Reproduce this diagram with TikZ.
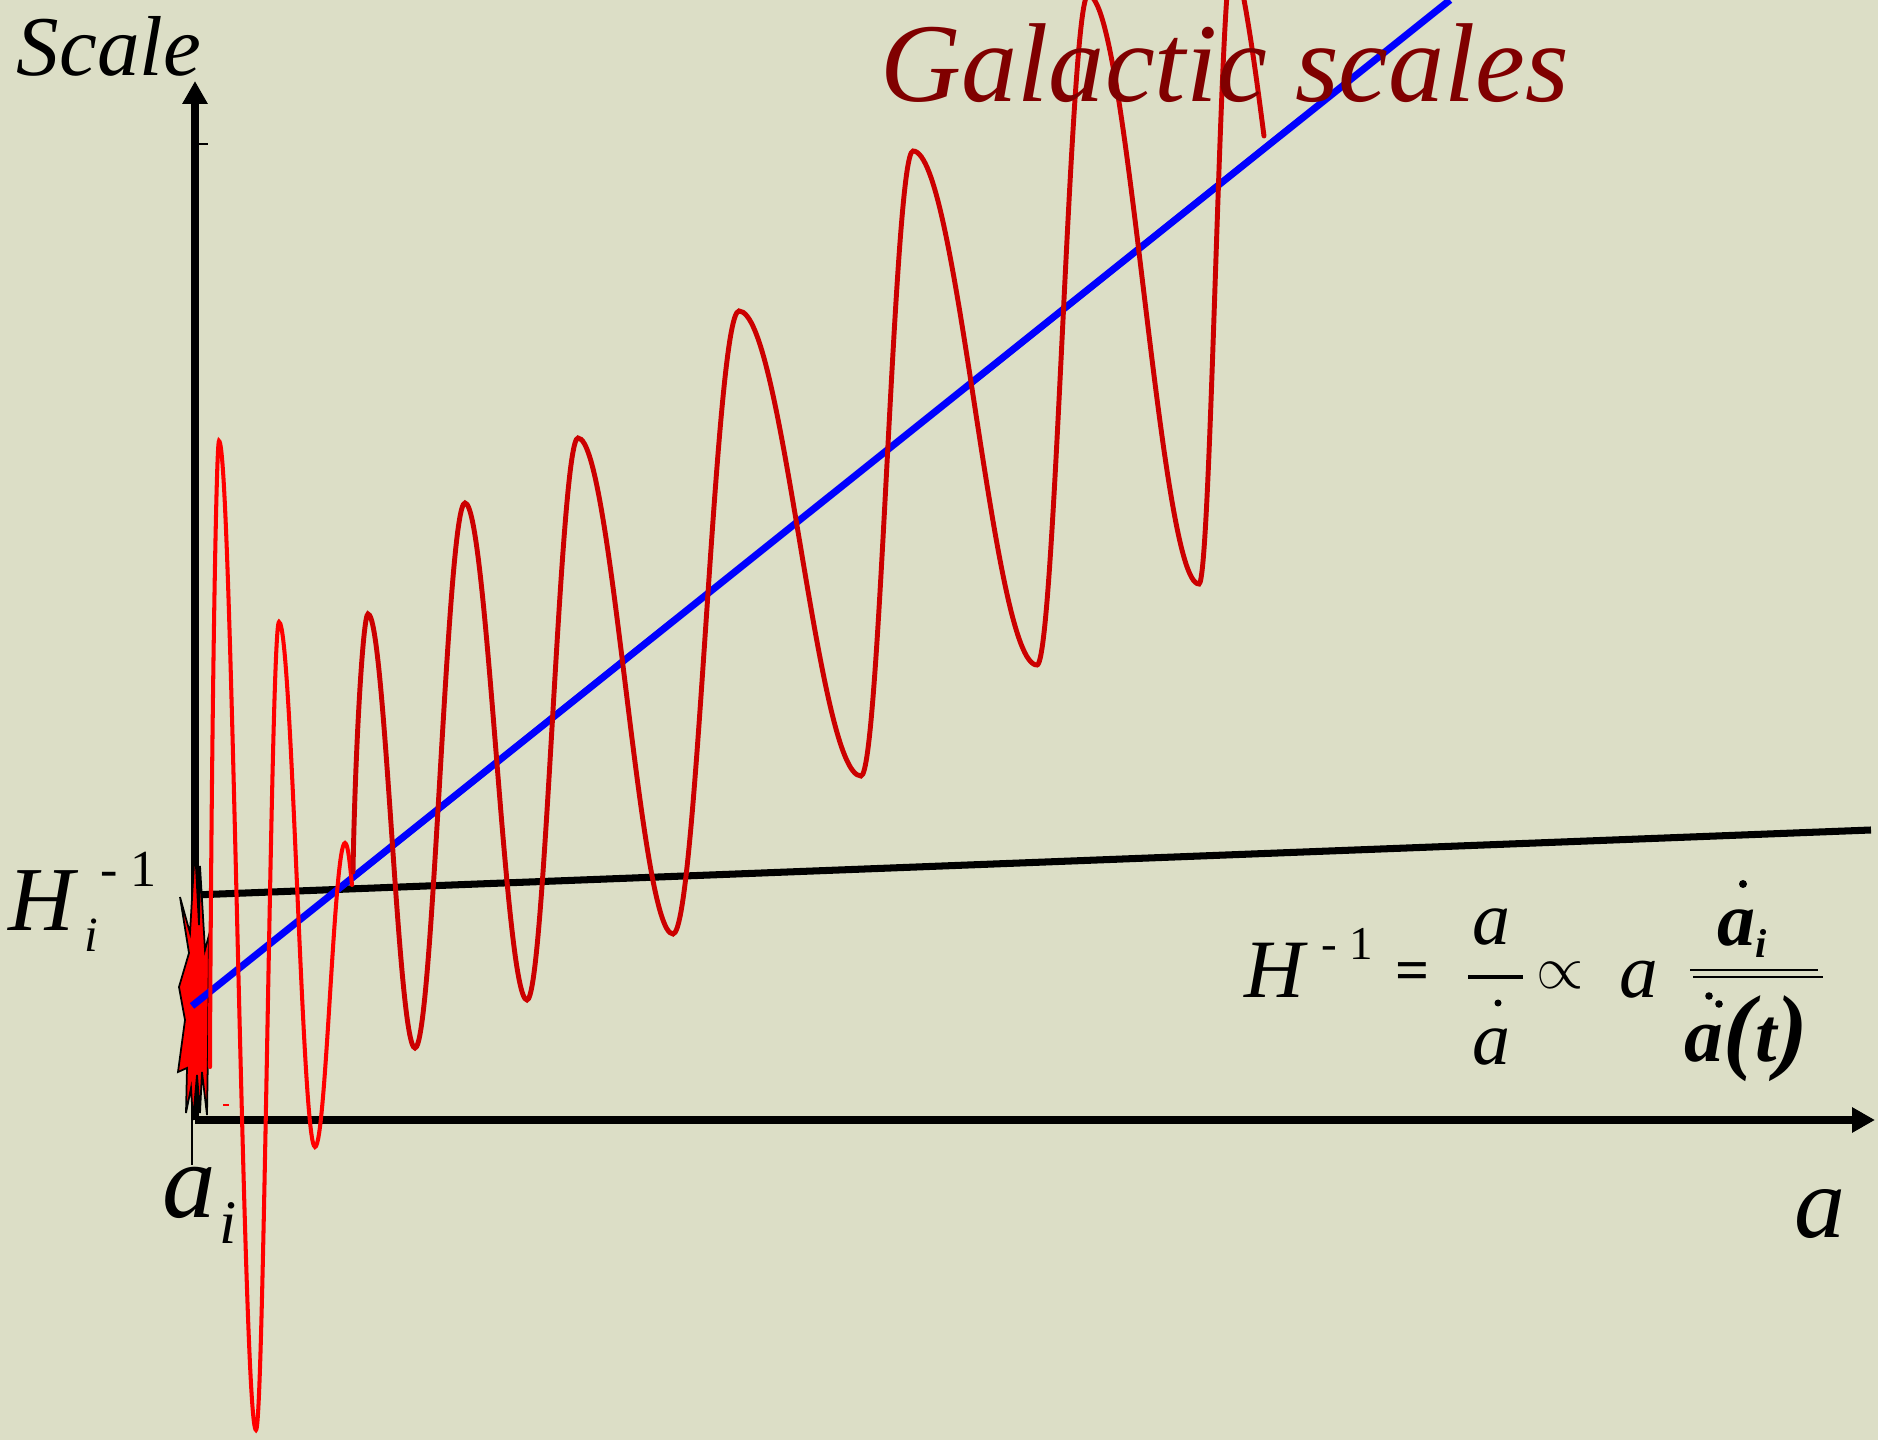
\documentclass[tikz,border=0pt]{standalone}
\usepackage{fontspec}
\setmainfont{Liberation Serif}
\usetikzlibrary{arrows.meta}
\definecolor{PaperGreen}{RGB}{220,222,198}
\definecolor{WaveRed}{RGB}{204,0,0}
\definecolor{TitleRed}{RGB}{128,0,0}

\begin{document}
\begin{tikzpicture}[
  x=0.01cm, y=-0.01cm,
  lbl/.style={inner sep=0pt, anchor=base west},
  fs/.style={font=\fontsize{#1}{#1}\selectfont\itshape},
  fb/.style={font=\fontsize{#1}{#1}\selectfont\bfseries\itshape},
  fu/.style={font=\fontsize{#1}{#1}\selectfont},
  axis/.style={line width=2.1pt, -{Triangle[length=6.5pt,width=6.8pt]}},
  hline/.style={line width=2pt},
  blueline/.style={line width=2pt, blue},
  brightwave/.style={line width=1.15pt, red, line cap=round},
  darkwave/.style={line width=1.4pt, WaveRed, line cap=round},
  bar/.style={line width=0.9pt}
]
  \useasboundingbox (0,0) rectangle (1878,1440);
  \clip (0,0) rectangle (1878,1440);
  \fill[PaperGreen] (0,0) rectangle (1878,1440);

  % axes
  \coordinate (O) at (195,1120);
  \coordinate (ytip) at (195,81);
  \coordinate (xtip) at (1875,1120);
  \draw[axis] (O) -- (ytip);
  \draw[axis] (O) -- (xtip);
  \draw[line width=0.6pt] (197,144) -- (208,144);

  % horizon line
  \coordinate (hs) at (194,895);
  \coordinate (he) at (1871,830);
  \draw[hline] (hs) -- (he);

  % big bang burst
  \filldraw[fill=red, draw=black, line width=0.5pt, line join=miter]
    (195,847) -- (199,925) -- (200,866) -- (205,950) -- (209,935)
    -- (208,1050) -- (207,1115) -- (202,1072) -- (200,1113) -- (197,1075)
    -- (193,1120) -- (191,1088) -- (186,1113) -- (187,1068) -- (178,1072)
    -- (185,1020) -- (179,987) -- (189,953) -- (180,897) -- (190,933) -- cycle;
  \draw[line width=0.6pt] (192,1113) -- (192,1165);
  \fill[red] (223,1104) rectangle (229,1106);

  % wavelength of the mode
  \coordinate (bs) at (192,1006);
  \coordinate (be) at (1450,0);
  \draw[blueline] (bs) -- (be);

  % oscillating mode
  \draw[brightwave] (210,1067) .. controls +(1,-300) and +(-3,0) .. (219,441)
    .. controls +(13,0) and +(-13,0) .. (256,1430)
    .. controls +(8,0) and +(-8,0) .. (279,622)
    .. controls +(13,0) and +(-13,0) .. (315,1147)
    .. controls +(11,0) and +(-11,0) .. (345,843)
    .. controls +(3,0) and +(-2,-20) .. (352,885);
  \draw[darkwave] (353,872) .. controls +(2,-120) and +(-5,0) .. (368,614)
    .. controls +(17,0) and +(-17,0) .. (415,1048)
    .. controls +(18,0) and +(-18,0) .. (465,503)
    .. controls +(22,0) and +(-22,0) .. (527,1000)
    .. controls +(18,0) and +(-18,0) .. (578,438)
    .. controls +(34,0) and +(-34,0) .. (673,934)
    .. controls +(24,0) and +(-24,0) .. (739,311)
    .. controls +(44,0) and +(-44,0) .. (861,776)
    .. controls +(19,0) and +(-19,0) .. (913,151)
    .. controls +(45,0) and +(-45,0) .. (1037,665)
    .. controls +(18,0) and +(-18,0) .. (1088,-5)
    .. controls +(40,0) and +(-40,0) .. (1199,584)
    .. controls +(12,0) and +(-12,0) .. (1232,-40)
    .. controls +(10,0) and +(-4,-30) .. (1264,136);

  % labels
  \node[lbl, fs=24.2] (scalelbl) at (16,76) {Scale};
  \node[lbl, fs=31.9, text=TitleRed] (galtitle) at (880,102) {Galactic scales};
  \node[lbl, fs=26] (Hi) at (8,931) {H};
  \node[lbl, fs=14] (Hisub) at (84,952) {i};
  \node[lbl, fu=14.8] (Hisup) at (100,887) {- 1};
  \node[lbl, fs=30.4] (ai) at (162,1217) {a};
  \node[lbl, fs=17.6] (aisub) at (219,1243) {i};
  \node[lbl, fs=29] (alabel) at (1794,1237) {a};

  % formula
  \node[lbl, fs=23.6] (fH) at (1244,998) {H};
  \node[lbl, fu=13.4] (fHsup) at (1321,960) {- 1};
  \node[inner sep=0pt, fu=17] (feq) at (1413,977) {\textbf{=}};
  \node[lbl, fs=21.6] (fnum) at (1472,945) {a};
  \draw[bar] (1468,977) -- (1523,977);
  \fill (1498,1003) circle (3.5);
  \node[lbl, fs=21.6] (fden) at (1472,1064) {a};
  \node[inner sep=0pt, fu=16] (fprop) at (1560,975) {$\propto$};
  \node[lbl, fs=22] (fa) at (1619,998) {a};
  % right fraction
  \node[lbl, fb=21.6] (rnum) at (1717,946) {a};
  \node[lbl, fb=11.5] (rsub) at (1755,958) {i};
  \fill (1743,884) circle (4);
  \draw[line width=0.85pt] (1690,970) -- (1818,970);
  \draw[line width=0.85pt] (1693,977) -- (1823,977);
  \node[lbl, fb=22] (rden) at (1684,1062)
    {a\fontsize{27}{27}\selectfont(\fontsize{22}{22}\selectfont t\fontsize{27}{27}\selectfont)};
  \fill (1709,996) circle (3.8);
  \fill (1719,1004) circle (3.8);
\end{tikzpicture}
\end{document}
